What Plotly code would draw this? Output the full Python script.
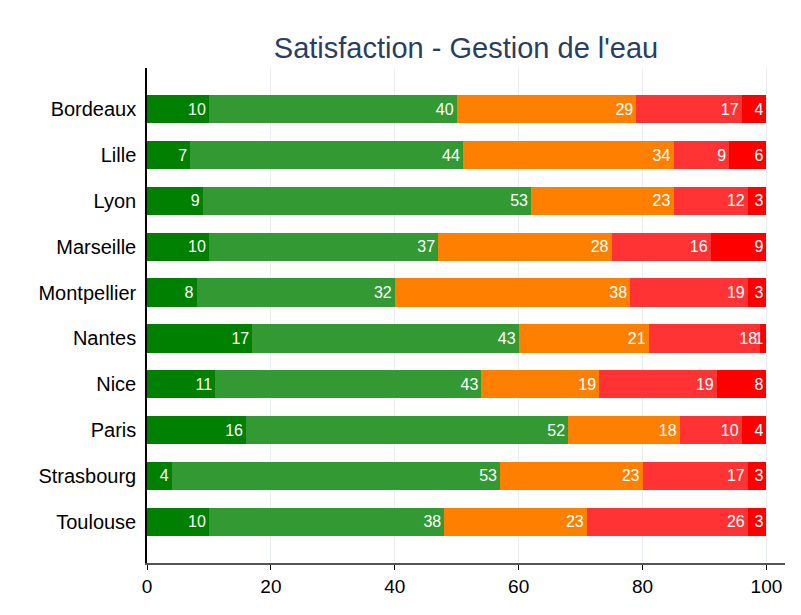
import plotly.graph_objects as go

villes = ["Bordeaux", "Lille", "Lyon", "Marseille", "Montpellier",
          "Nantes", "Nice", "Paris", "Strasbourg", "Toulouse"]

# share of answers per city (%), from most to least satisfied
tres_satisfait = [10, 7, 9, 10, 8, 17, 11, 16, 4, 10]
satisfait = [40, 44, 53, 37, 32, 43, 43, 52, 53, 38]
neutre = [29, 34, 23, 28, 38, 21, 19, 18, 23, 23]
insatisfait = [17, 9, 12, 16, 19, 18, 19, 10, 17, 26]
tres_insatisfait = [4, 6, 3, 9, 3, 1, 8, 4, 3, 3]

series = [
    ("Très satisfait", tres_satisfait, "#008000"),
    ("Satisfait", satisfait, "#339933"),
    ("Neutre", neutre, "#ff8000"),
    ("Insatisfait", insatisfait, "#ff3333"),
    ("Très insatisfait", tres_insatisfait, "#ff0000"),
]

fig = go.Figure()
for name, vals, color in series:
    fig.add_trace(go.Bar(
        y=villes,
        x=vals,
        name=name,
        orientation="h",
        marker=dict(color=color, line=dict(width=0)),
        text=vals,
        textposition="inside",
        insidetextanchor="end",
        constraintext="none",
        textfont=dict(color="white", size=16, family="Liberation Sans, Arial"),
    ))

# the page body adds an 8px offset, margins account for it
fig.update_layout(
    barmode="stack",
    bargap=0.38,
    showlegend=False,
    width=801,
    height=615,
    margin=dict(l=139, r=24, t=60, b=60),
    paper_bgcolor="white",
    plot_bgcolor="white",
    font=dict(family="Liberation Sans, Arial", size=16, color="black"),
    uniformtext=dict(minsize=16, mode="show"),
    title=dict(
        text="Satisfaction - Gestion de l'eau",
        x=0.5, xanchor="center",
        xref="paper",
        y=0.935, yanchor="middle",
        font=dict(size=29, color="#2a3f5f", family="Liberation Sans, Arial"),
    ),
)

fig.update_xaxes(
    range=[0, 103],
    tickvals=[0, 20, 40, 60, 80, 100],
    showgrid=True,
    gridcolor="#e8eef2",
    zeroline=False,
    showline=True,
    linecolor="#555555",
    linewidth=1.5,
    ticks="outside",
    ticklen=5,
    tickcolor="black",
    tickfont=dict(size=19, color="black"),
)
fig.update_yaxes(
    autorange=False,
    range=[9.9, -0.9],
    showgrid=False,
    showline=True,
    linecolor="black",
    linewidth=1.5,
    ticks="",
    ticklabelstandoff=5,
    tickfont=dict(size=20, color="black"),
)

fig.write_html("out.html")
